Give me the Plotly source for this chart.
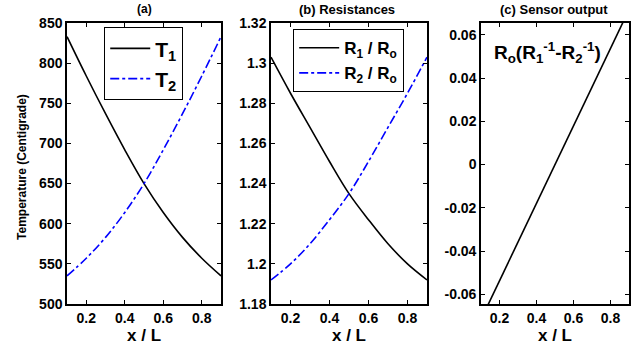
import plotly.graph_objects as go

x = [0.1, 0.2, 0.3, 0.4, 0.5, 0.6, 0.7, 0.8, 0.9]
T1 = [833, 784, 737, 692, 650, 614, 583, 557, 535]
T2 = [535, 557, 583, 614, 650, 692, 737, 784, 833]
R1 = [1.303, 1.285, 1.268, 1.251, 1.235, 1.222, 1.210, 1.200, 1.192]
R2 = [1.192, 1.200, 1.210, 1.222, 1.235, 1.251, 1.268, 1.285, 1.303]
S = [-0.0717, -0.0537, -0.0358, -0.0179, 0.0, 0.0179, 0.0358, 0.0537, 0.0717]

xticks = [0.2, 0.4, 0.6, 0.8]
yticks_a = [500, 550, 600, 650, 700, 750, 800, 850]
yticks_b = [1.18, 1.2, 1.22, 1.24, 1.26, 1.28, 1.3, 1.32]
yticks_c = [-0.06, -0.04, -0.02, 0, 0.02, 0.04, 0.06]

FONT = "Liberation Sans, Arial, sans-serif"
black = "#000000"
blue = "#0000ff"

fig = go.Figure()
fig.add_trace(go.Scatter(x=x, y=T1, mode="lines", line=dict(color=black, width=1.6, shape="spline"),
                         name="T<sub>1</sub>", xaxis="x", yaxis="y", legend="legend"))
fig.add_trace(go.Scatter(x=x, y=T2, mode="lines", line=dict(color=blue, width=1.6, dash="dashdot", shape="spline"),
                         name="T<sub>2</sub>", xaxis="x", yaxis="y", legend="legend"))
fig.add_trace(go.Scatter(x=x, y=R1, mode="lines", line=dict(color=black, width=1.6, shape="spline"),
                         name="R<sub>1</sub> / R<sub>o</sub>", xaxis="x2", yaxis="y2", legend="legend2"))
fig.add_trace(go.Scatter(x=x, y=R2, mode="lines", line=dict(color=blue, width=1.6, dash="dashdot", shape="spline"),
                         name="R<sub>2</sub> / R<sub>o</sub>", xaxis="x2", yaxis="y2", legend="legend2"))
fig.add_trace(go.Scatter(x=x, y=S, mode="lines", line=dict(color=black, width=1.6),
                         showlegend=False, xaxis="x3", yaxis="y3"))

tickfont = dict(family=FONT, size=14, color=black, weight="bold")
titlefont = dict(family=FONT, size=17, color=black, weight="bold")

def xax(domain, anchor):
    return dict(domain=domain, anchor=anchor, range=[0.1, 0.9], tickvals=xticks,
                ticktext=["0.2", "0.4", "0.6", "0.8"], automargin=False,
                ticks="inside", ticklen=4, tickwidth=1, tickcolor=black,
                showline=True, linecolor=black, linewidth=1.5, mirror="ticks",
                showgrid=False, zeroline=False, tickfont=tickfont,
                title=dict(text="x / L", font=titlefont, standoff=2))

def yax(domain, anchor, rng, vals, txt):
    return dict(domain=domain, anchor=anchor, range=rng, tickvals=vals, ticktext=txt,
                automargin=False,
                ticks="inside", ticklen=4, tickwidth=1, tickcolor=black,
                showline=True, linecolor=black, linewidth=1.5, mirror="ticks",
                showgrid=False, zeroline=False, tickfont=tickfont)

yd = [0.1239, 0.9337]
fig.update_layout(
    width=639, height=347,
    margin=dict(l=0, r=0, t=0, b=0, autoexpand=False),
    paper_bgcolor="white", plot_bgcolor="white",
    xaxis=xax([0.1049, 0.3459], "y"),
    xaxis2=xax([0.4241, 0.6682], "y2"),
    xaxis3=xax([0.7527, 0.9844], "y3"),
    yaxis=yax(yd, "x", [500, 850], yticks_a, [str(v) for v in yticks_a]),
    yaxis2=yax(yd, "x2", [1.18, 1.32], yticks_b, ["1.18", "1.2", "1.22", "1.24", "1.26", "1.28", "1.3", "1.32"]),
    yaxis3=yax(yd, "x3", [-0.0645, 0.0655], yticks_c, ["-0.06", "-0.04", "-0.02", "0", "0.02", "0.04", "0.06"]),
    legend=dict(x=0.1628, y=0.9222, xanchor="left", yanchor="top", bordercolor=black, borderwidth=1.2,
                bgcolor="white", font=dict(family=FONT, size=21, color=black, weight="bold"),
                tracegroupgap=0, itemwidth=40),
    legend2=dict(x=0.4585, y=0.9164, xanchor="left", yanchor="top", bordercolor=black, borderwidth=1.2,
                 bgcolor="white", font=dict(family=FONT, size=17, color=black, weight="bold"),
                 tracegroupgap=0, itemwidth=40),
    showlegend=True,
)

fig.add_annotation(text="(a)", x=0.2269, y=1.0, xref="paper", yref="paper", xanchor="center", yanchor="top",
                   showarrow=False, font=dict(family=FONT, size=12, color=black, weight="bold"))
fig.add_annotation(text="(b) Resistances", x=0.5438, y=1.0, xref="paper", yref="paper", xanchor="center",
                   yanchor="top", showarrow=False,
                   font=dict(family=FONT, size=13, color=black, weight="bold"))
fig.add_annotation(text="(c) Sensor output", x=0.8662, y=1.0, xref="paper", yref="paper", xanchor="center",
                   yanchor="top", showarrow=False,
                   font=dict(family=FONT, size=13, color=black, weight="bold"))
fig.add_annotation(text="Temperature (Centigrade)", x=0.0352, y=0.5202, xref="paper", yref="paper",
                   xanchor="center", yanchor="middle", textangle=-90, showarrow=False,
                   font=dict(family=FONT, size=12, color=black, weight="bold"))
fig.add_annotation(text="R<sub>o</sub>(R<sub>1</sub><sup>-1</sup>-R<sub>2</sub><sup>-1</sup>)",
                   x=0.77, y=0.848, xref="paper", yref="paper", xanchor="left", yanchor="middle",
                   showarrow=False, font=dict(family=FONT, size=19, color=black, weight="bold"))

fig.write_html("out.html", config={"displayModeBar": False},
               post_script="document.body.style.margin='0';")
